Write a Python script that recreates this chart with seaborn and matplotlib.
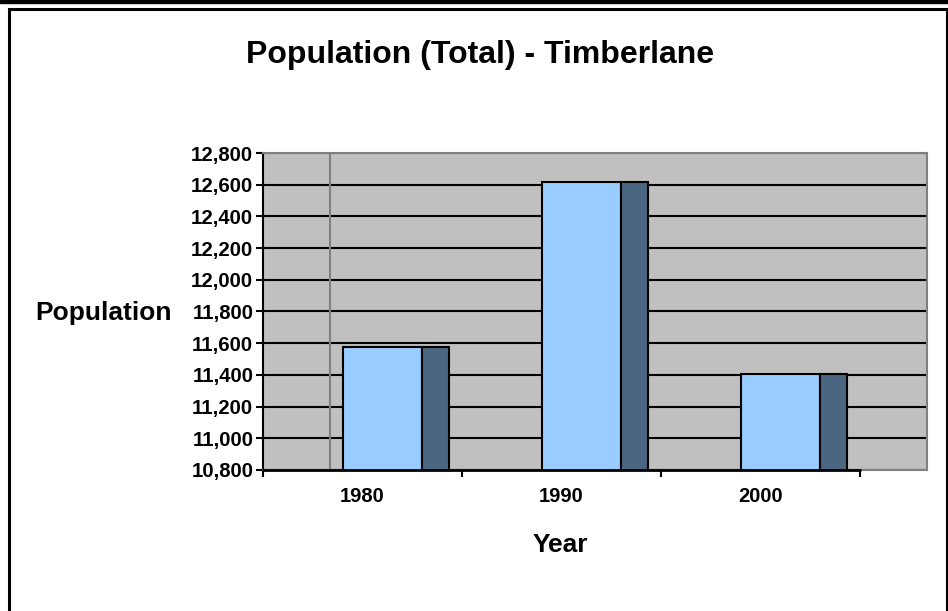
import matplotlib
matplotlib.use("Agg")
import matplotlib.pyplot as plt
from matplotlib.patches import Rectangle
import seaborn as sns
import numpy as np

years = ["1980", "1990", "2000"]
population = [11579, 12614, 11405]
yticks = list(range(10800, 12801, 200))

front_col = "#99CCFF"
side_col = "#4A6681"
wall_col = "#C0C0C0"

sns.set_style("white")
plt.rcParams['font.family'] = ['Liberation Sans', 'DejaVu Sans']
plt.rcParams['font.weight'] = 'bold'
plt.rcParams['text.color'] = 'black'
plt.rcParams['xtick.color'] = 'black'
plt.rcParams['ytick.color'] = 'black'

fig = plt.figure(figsize=(9.48, 6.11), dpi=100)
ax = fig.add_axes([263/948, 141/611, 664/948, 317/611])
ax.set_facecolor(wall_col)

n = len(years)
depth = 67/199.0          # 3d depth of the old excel chart, in category units
front_off = 0.10
side_off = 0.3675
side_w = 0.135

sns.barplot(x=years, y=population, color=front_col, width=0.40, saturation=1,
            edgecolor="black", linewidth=1.5, ax=ax, zorder=3)
for p in ax.patches:
    p.set_x(p.get_x() + front_off)
ax.bar(np.arange(n) + side_off, population, width=side_w, color=side_col,
       edgecolor="black", linewidth=1.5, zorder=3)

ax.set_xlim(-0.5, n - 0.5 + depth)
ax.set_ylim(yticks[0], yticks[-1])
ax.set_yticks(yticks)
ax.set_yticklabels(["{:,}".format(v) for v in yticks])
ax.yaxis.grid(True, color="black", linewidth=1.5, zorder=1)
ax.set_axisbelow(True)
ax.axvline(-0.5 + depth, color="#808080", linewidth=1.5, zorder=1)

ax.set_xticks(range(n))
ax.set_xticklabels(years)
ax.set_xticks(np.arange(n + 1) - 0.5, minor=True)
ax.tick_params(axis="x", which="major", length=0, pad=12.5, labelsize=14.5, labelcolor="black")
ax.tick_params(axis="x", which="minor", bottom=True, length=5, width=1.5, color="black", direction="out")
ax.tick_params(axis="y", length=5, width=1.5, color="black", pad=2, labelsize=14.7,
               left=True, labelcolor="black", direction="out")

for s in ["top", "right", "bottom"]:
    ax.spines[s].set_color("#808080")
    ax.spines[s].set_linewidth(1.5)
ax.spines["left"].set_color("black")
ax.spines["left"].set_linewidth(1.5)
ax.axhline(yticks[0], xmin=0, xmax=n / (n + depth), color="black", linewidth=2, zorder=4, clip_on=False)

ax.set_xlabel("")
ax.set_ylabel("")
fig.text(172/948, 1 - 313/611, "Population", ha="right", va="center", fontsize=19,
         fontweight="bold", color="black")
fig.text(560/948, 1 - 545/611, "Year", ha="center", va="center", fontsize=19,
         fontweight="bold", color="black")
fig.text(480/948, 1 - 55/611, "Population (Total) - Timberlane", ha="center", va="center",
         fontsize=23, fontweight="bold", color="black")

# page frame
fig.patches.append(Rectangle((0, 1 - 3/611), 1, 3/611, transform=fig.transFigure,
                             color="black", zorder=0))
fig.patches.append(Rectangle((9/948, -0.1), 938/948, 1.1 - 9/611, transform=fig.transFigure,
                             fill=False, edgecolor="black", linewidth=2.2, zorder=0))

plt.savefig("out.png", dpi=100)
